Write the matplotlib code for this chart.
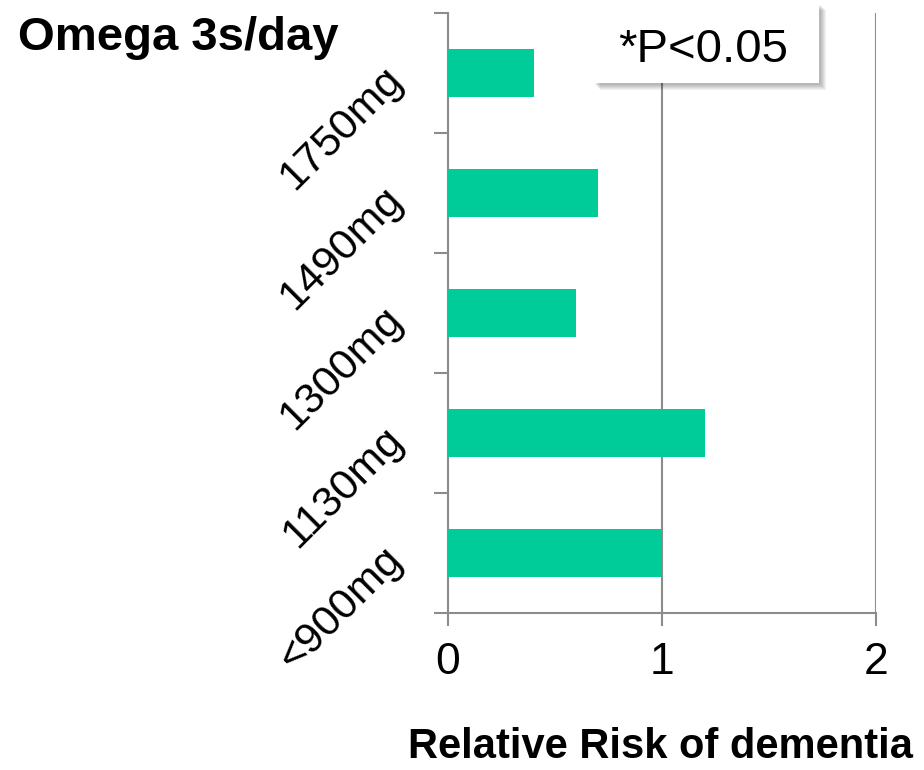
import numpy as np
import matplotlib
matplotlib.use("Agg")
from matplotlib import pyplot as plt
from matplotlib.patches import Rectangle

plt.rcParams['font.family'] = ['Liberation Sans', 'DejaVu Sans']

# omega-3 intake groups and relative risk of dementia
doses = ['<900mg', '1130mg', '1300mg', '1490mg', '1750mg']
relative_risk = [1.0, 1.2, 0.6, 0.7, 0.4]
x_ticks = [0, 1, 2]

W, H = 924, 770
fig = plt.figure(figsize=(W / 100, H / 100), dpi=100)
ax = fig.add_axes([448 / W, 1 - 613 / H, (876 - 448) / W, (613 - 13) / H])

grey = '#8c8c8c'
ypos = np.arange(len(doses))
ax.barh(ypos, relative_risk, height=0.4, color='#00CC99', zorder=3)

ax.set_xlim(0, 2)
ax.set_ylim(-0.5, len(doses) - 0.5)
ax.set_xticks(x_ticks)
ax.set_xticklabels([str(t) for t in x_ticks], fontsize=32)
ax.tick_params(axis='x', direction='out', length=9, width=1.5, color=grey, pad=12)

# category labels at bar centres, tick marks between categories
ax.set_yticks(ypos)
ax.set_yticklabels(doses, fontsize=31, rotation=45, ha='right', va='center',
                   rotation_mode='anchor')
ax.tick_params(axis='y', which='major', length=0, pad=37)
ax.set_yticks(np.arange(-0.5, len(doses)), minor=True)
ax.tick_params(axis='y', which='minor', direction='out', length=10, width=1.5, color=grey)

for s in ['top', 'right']:
    ax.spines[s].set_visible(False)
for s in ['left', 'bottom']:
    ax.spines[s].set_color(grey)
    ax.spines[s].set_linewidth(1.5)
ax.xaxis.grid(True, color=grey, linewidth=1.5, zorder=0)
ax.set_axisbelow(True)

fig.text(18 / W, 1 - 50 / H, 'Omega 3s/day', fontsize=34, fontweight='bold',
         ha='left', va='baseline')
fig.text(408 / W, 1 - 758 / H, 'Relative Risk of dementia', fontsize=30,
         fontweight='bold', ha='left', va='baseline')

# annotation box with soft shadow
bx0, by0, bx1, by1 = 593, 3, 819, 83
for i in range(6):
    off = 2 + i
    fig.patches.append(Rectangle(((bx0 + off) / W, 1 - (by1 + off) / H),
                                 (bx1 - bx0) / W, (by1 - by0) / H,
                                 transform=fig.transFigure, facecolor='black',
                                 edgecolor='none', alpha=0.05, zorder=4))
fig.patches.append(Rectangle((bx0 / W, 1 - by1 / H), (bx1 - bx0) / W, (by1 - by0) / H,
                             transform=fig.transFigure, facecolor='white',
                             edgecolor='none', zorder=5))
fig.text(703 / W, 1 - 62 / H, '*P<0.05', fontsize=34,
         ha='center', va='baseline', zorder=6)

fig.savefig('out.png', dpi=100)
